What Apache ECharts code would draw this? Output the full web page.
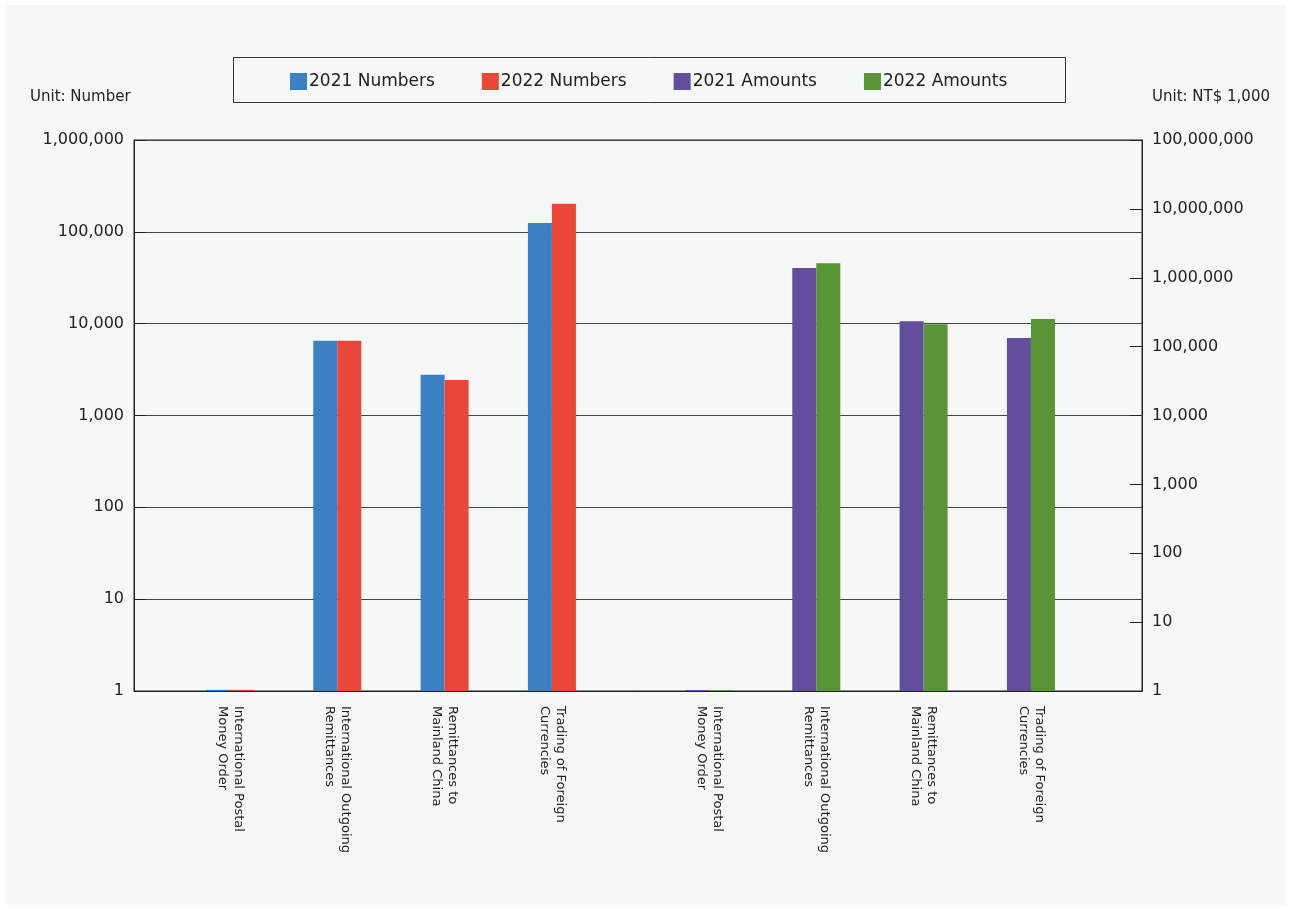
<!DOCTYPE html>
<html>
<head>
<meta charset="utf-8">
<script src="https://cdn.jsdelivr.net/npm/echarts@6/dist/echarts.min.js"></script>
<style>
  html, body { margin: 0; padding: 0; background: #ffffff; }
  #panel { position: absolute; left: 6px; top: 5px; width: 1280px; height: 900px; background: #f6f8f7; }
  #chart { position: absolute; left: 0; top: 0; width: 1292px; height: 909px; }
</style>
</head>
<body>
<div id="panel"></div>
<div id="chart"></div>
<script>
// Service categories (same four services in both groups)
const categories = [
  'International Postal\nMoney Order',
  'International Outgoing\nRemittances',
  'Remittances to\nMainland China',
  'Trading of Foreign\nCurrencies'
];
// Transaction counts (left axis, unit: number)
const numbers2021 = [1.03, 6500, 2770, 125000];
const numbers2022 = [1.03, 6500, 2440, 202000];
// Transaction amounts (right axis, unit: NT$ 1,000)
const amounts2021 = [1.03, 1380000, 234000, 133000];
const amounts2022 = [1.03, 1630000, 212000, 251000];

const seriesNames = ['2021 Numbers', '2022 Numbers', '2021 Amounts', '2022 Amounts'];
const seriesColors = ['#3b80c3', '#e94738', '#634d9d', '#5a9535'];

const leftRange = [1, 1000000];
const rightRange = [1, 100000000];

const FONT = 'DejaVu Sans';
const TEXT = '#222222';
const fmt = v => Math.round(v).toLocaleString('en-US');

const chart = echarts.init(document.getElementById('chart'), null, { renderer: 'canvas' });

const plotTop = 140, plotBottom = 218;

const option = {
  backgroundColor: 'transparent',
  animation: false,
  textStyle: { fontFamily: FONT, color: TEXT },
  graphic: [
    { type: 'rect', left: 233, top: 57, shape: { width: 832, height: 45 },
      style: { fill: 'transparent', stroke: '#333', lineWidth: 1 } },
    { type: 'text', left: 30, top: 90,
      style: { text: 'Unit: Number', font: '15px "DejaVu Sans"', fill: TEXT } },
    { type: 'text', right: 22, top: 90,
      style: { text: 'Unit: NT$ 1,000', font: '15px "DejaVu Sans"', fill: TEXT } }
  ],
  legend: {
    data: seriesNames,
    left: 285, top: 68,
    itemWidth: 17, itemHeight: 17, itemGap: 47,
    icon: 'rect',
    textStyle: { fontFamily: FONT, fontSize: 17, color: TEXT, padding: [0, 0, 0, -3] }
  },
  grid: [
    // frame with both value axes
    { left: 134, right: 150, top: plotTop, bottom: plotBottom, show: true,
      borderColor: '#222', borderWidth: 1, backgroundColor: 'transparent' },
    // number group
    { left: 176.3, width: 429.3, top: plotTop, bottom: plotBottom },
    // amount group
    { left: 655.3, width: 429.3, top: plotTop, bottom: plotBottom }
  ],
  xAxis: [
    { type: 'category', gridIndex: 0, data: [''],
      axisLine: { show: true, lineStyle: { color: '#222', width: 1 } },
      axisTick: { show: false }, axisLabel: { show: false } },
    { type: 'category', gridIndex: 1, data: categories,
      axisLine: { show: false }, axisTick: { show: false },
      axisLabel: { rotate: -90, margin: 15, fontFamily: FONT, fontSize: 13, lineHeight: 16, color: TEXT } },
    { type: 'category', gridIndex: 2, data: categories,
      axisLine: { show: false }, axisTick: { show: false },
      axisLabel: { rotate: -90, margin: 15, fontFamily: FONT, fontSize: 13, lineHeight: 16, color: TEXT } }
  ],
  yAxis: [
    { type: 'log', logBase: 10, gridIndex: 0, position: 'left',
      min: leftRange[0], max: leftRange[1], splitNumber: 6,
      axisLine: { show: true, lineStyle: { color: '#222' } },
      axisTick: { show: true, inside: true, length: 12, lineStyle: { color: '#222' } },
      splitLine: { show: true, lineStyle: { color: '#444', width: 1 } },
      axisLabel: { margin: 10, fontFamily: FONT, fontSize: 16, color: TEXT, formatter: fmt } },
    { type: 'log', logBase: 10, gridIndex: 0, position: 'right',
      min: rightRange[0], max: rightRange[1], splitNumber: 8,
      axisLine: { show: true, lineStyle: { color: '#222' } },
      axisTick: { show: true, inside: true, length: 12, lineStyle: { color: '#222' } },
      splitLine: { show: false },
      axisLabel: { margin: 10, fontFamily: FONT, fontSize: 16, color: TEXT, formatter: fmt } },
    { type: 'log', logBase: 10, gridIndex: 1, min: leftRange[0], max: leftRange[1], show: false },
    { type: 'log', logBase: 10, gridIndex: 2, min: rightRange[0], max: rightRange[1], show: false }
  ],
  series: [
    { name: seriesNames[0], type: 'bar', xAxisIndex: 1, yAxisIndex: 2, data: numbers2021,
      barWidth: 24, barGap: '0%', itemStyle: { color: seriesColors[0] } },
    { name: seriesNames[1], type: 'bar', xAxisIndex: 1, yAxisIndex: 2, data: numbers2022,
      barWidth: 24, barGap: '0%', itemStyle: { color: seriesColors[1] } },
    { name: seriesNames[2], type: 'bar', xAxisIndex: 2, yAxisIndex: 3, data: amounts2021,
      barWidth: 24, barGap: '0%', itemStyle: { color: seriesColors[2] } },
    { name: seriesNames[3], type: 'bar', xAxisIndex: 2, yAxisIndex: 3, data: amounts2022,
      barWidth: 24, barGap: '0%', itemStyle: { color: seriesColors[3] } }
  ]
};

chart.setOption(option);
</script>
</body>
</html>
